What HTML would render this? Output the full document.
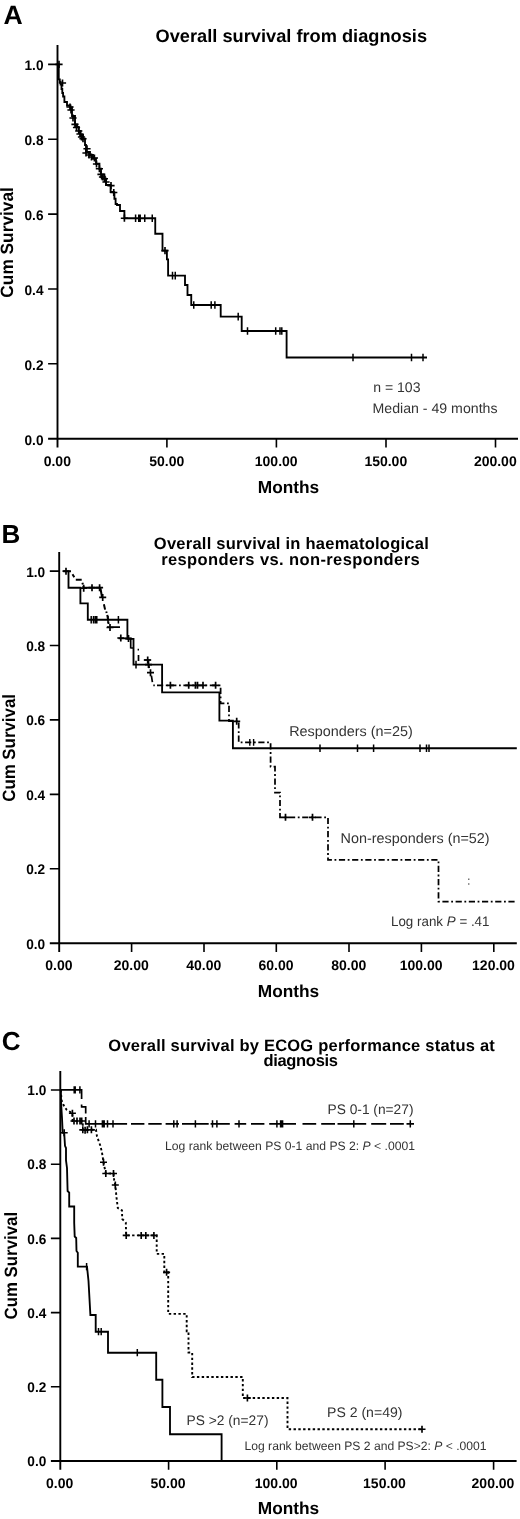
<!DOCTYPE html>
<html><head><meta charset="utf-8"><title>Overall survival</title>
<style>html,body{margin:0;padding:0;background:#fff}svg{display:block;will-change:transform}text{-webkit-font-smoothing:antialiased;text-rendering:geometricPrecision}</style></head><body>
<svg width="520" height="1519" viewBox="0 0 520 1519" font-family="Liberation Sans, sans-serif">
<rect width="520" height="1519" fill="#fff"/>
<text x="3.6" y="24" font-size="26.6" font-weight="bold" text-anchor="start" fill="#000">A</text>
<text x="291.3" y="41.6" font-size="18" font-weight="bold" text-anchor="middle" fill="#000" textLength="271.5" lengthAdjust="spacingAndGlyphs">Overall survival from diagnosis</text>
<path d="M57.5,45V447.5M48.1,438.7H518" stroke="#000" stroke-width="1.9" fill="none"/>
<path d="M48.1,64.4H57.5M48.1,139.3H57.5M48.1,214.1H57.5M48.1,289H57.5M48.1,363.8H57.5M166.9,438.7V447.5M276.4,438.7V447.5M386,438.7V447.5M495.5,438.7V447.5" stroke="#000" stroke-width="1.6" fill="none"/>
<text x="43.5" y="70.2" font-size="14" font-weight="bold" text-anchor="end" fill="#000" textLength="19" lengthAdjust="spacingAndGlyphs">1.0</text>
<text x="43.5" y="145.10000000000002" font-size="14" font-weight="bold" text-anchor="end" fill="#000" textLength="19" lengthAdjust="spacingAndGlyphs">0.8</text>
<text x="43.5" y="219.9" font-size="14" font-weight="bold" text-anchor="end" fill="#000" textLength="19" lengthAdjust="spacingAndGlyphs">0.6</text>
<text x="43.5" y="294.8" font-size="14" font-weight="bold" text-anchor="end" fill="#000" textLength="19" lengthAdjust="spacingAndGlyphs">0.4</text>
<text x="43.5" y="369.6" font-size="14" font-weight="bold" text-anchor="end" fill="#000" textLength="19" lengthAdjust="spacingAndGlyphs">0.2</text>
<text x="43.5" y="444.5" font-size="14" font-weight="bold" text-anchor="end" fill="#000" textLength="19" lengthAdjust="spacingAndGlyphs">0.0</text>
<text x="57.3" y="466.2" font-size="14" font-weight="bold" text-anchor="middle" fill="#000">0.00</text>
<text x="166.70000000000002" y="466.2" font-size="14" font-weight="bold" text-anchor="middle" fill="#000">50.00</text>
<text x="276.2" y="466.2" font-size="14" font-weight="bold" text-anchor="middle" fill="#000">100.00</text>
<text x="385.8" y="466.2" font-size="14" font-weight="bold" text-anchor="middle" fill="#000">150.00</text>
<text x="495.3" y="466.2" font-size="14" font-weight="bold" text-anchor="middle" fill="#000">200.00</text>
<text x="288.5" y="493.2" font-size="17.3" font-weight="bold" text-anchor="middle" fill="#000" textLength="61.5" lengthAdjust="spacingAndGlyphs">Months</text>
<text transform="translate(13.2,242.4) rotate(-90)" font-size="17.8" font-weight="bold" text-anchor="middle" textLength="110.5" lengthAdjust="spacingAndGlyphs">Cum Survival</text>
<polyline points="57.7,64.4 58.75,64.4 58.75,79.4 59.8,79.4 59.8,82 60.6,82 60.6,84.5 61.5,84.5 61.5,89 62.3,89 62.3,93 63.1,93 63.1,96.5 64.4,96.5 64.4,102 67,102 67,105.5 70.5,105.5 70.5,107.5 72,107.5 72,116 75,116 75,124.4 77,124.4 77,127 78.75,127 78.75,131 80.6,131 80.6,135 83,135 83,138.75 85,138.75 85,145 86,145 86,152 90,152 90,155 93,155 93,158.75 96,158.75 96,163.75 99.4,163.75 99.4,168.75 101,168.75 101,174.4 104.4,174.4 104.4,178.75 106,178.75 106,185 110.5,185 110.5,185.6 110.6,185.6 110.6,192 113.75,192 113.75,192.5 114.4,192.5 114.4,198.75 115.6,198.75 115.6,204 117,204 117,205 120,205 120,211 124.4,211 124.4,218.2 154.75,218.2 155.25,218.2 155.25,233.75 160.6,233.75 162.5,233.75 162.5,243 162.5,250.6 166.4,250.6 166.9,250.6 166.9,259.4 168.1,259.4 168.1,275.6 185,275.6 185,285 187.5,285 187.5,295 190.6,295 191.25,295 191.25,305 220.7,305 220.7,316.6 241.6,316.6 241.7,316.6 241.7,331 286.6,331 286.6,357.5 427,357.5" fill="none" stroke="#000" stroke-width="1.85" stroke-linejoin="miter" stroke-linecap="butt"/>
<path d="M59,60.800000000000004V68.0M55.4,64.4H62.6M62.5,79.4V86.6M58.9,83H66.1M70,103.4V110.6M66.4,107H73.6M71,106.4V113.6M67.4,110H74.6M73,114.4V121.6M69.4,118H76.6M75,120.80000000000001V128.0M71.4,124.4H78.6M76.5,123.9V131.1M72.9,127.5H80.1M78.75,127.4V134.6M75.15,131H82.35M80,130.4V137.6M76.4,134H83.6M81.5,133.4V140.6M77.9,137H85.1M83,135.15V142.35M79.4,138.75H86.6M87,145.15V152.35M83.4,148.75H90.6M86,149.4V156.6M82.4,153H89.6M89,151.4V158.6M85.4,155H92.6M91.5,153.4V160.6M87.9,157H95.1M94.4,154.4V161.6M90.80000000000001,158H98.0M96.5,160.4V167.6M92.9,164H100.1M99.4,165.15V172.35M95.80000000000001,168.75H103.0M101,170.8V178.0M97.4,174.4H104.6M102.5,173.4V180.6M98.9,177H106.1M104.4,175.15V182.35M100.80000000000001,178.75H108.0M106,178.4V185.6M102.4,182H109.6M111,182.0V189.2M107.4,185.6H114.6M113.75,188.9V196.1M110.15,192.5H117.35M124.4,214.6V221.79999999999998M120.80000000000001,218.2H128.0M165,247.0V254.2M161.4,250.6H168.6" stroke="#000" stroke-width="1.65" fill="none"/>
<path d="M135.6,214.39999999999998V222.0M138.75,214.39999999999998V222.0M140.2,214.39999999999998V222.0M144.75,214.39999999999998V222.0M152.25,214.39999999999998V222.0M172.5,271.8V279.40000000000003M175.25,271.8V279.40000000000003M193.75,301.2V308.8M211.2,301.2V308.8M214.9,301.2V308.8M238.2,312.8V320.40000000000003M247.5,327.2V334.8M275.7,327.2V334.8M280,327.2V334.8M281.8,327.2V334.8M353,353.7V361.3M411.5,353.7V361.3M423,353.7V361.3" stroke="#000" stroke-width="1.5" fill="none"/>
<text x="373.2" y="391.7" font-size="14" text-anchor="start" fill="#333" textLength="47.3" lengthAdjust="spacingAndGlyphs">n = 103</text>
<text x="372.5" y="412.7" font-size="14" text-anchor="start" fill="#333" textLength="125" lengthAdjust="spacingAndGlyphs">Median - 49 months</text>
<text x="1.6" y="543.3" font-size="26" font-weight="bold" text-anchor="start" fill="#000">B</text>
<text x="291.3" y="548.7" font-size="16.5" font-weight="bold" text-anchor="middle" fill="#000" textLength="275" lengthAdjust="spacing">Overall survival in haematological</text>
<text x="290.4" y="565.4" font-size="16.5" font-weight="bold" text-anchor="middle" fill="#000" textLength="258.5" lengthAdjust="spacing">responders vs. non-responders</text>
<path d="M59.2,552.1V952.0999999999999M49.800000000000004,943.3H516.8" stroke="#000" stroke-width="1.9" fill="none"/>
<path d="M49.800000000000004,571.1H59.2M49.800000000000004,645.5H59.2M49.800000000000004,719.9H59.2M49.800000000000004,794.4H59.2M49.800000000000004,868.8H59.2M131.6,943.3V952.0999999999999M204,943.3V952.0999999999999M276.3,943.3V952.0999999999999M349,943.3V952.0999999999999M421.4,943.3V952.0999999999999M493.8,943.3V952.0999999999999" stroke="#000" stroke-width="1.6" fill="none"/>
<text x="45.2" y="576.6" font-size="14" font-weight="bold" text-anchor="end" fill="#000" textLength="19" lengthAdjust="spacingAndGlyphs">1.0</text>
<text x="45.2" y="651.0" font-size="14" font-weight="bold" text-anchor="end" fill="#000" textLength="19" lengthAdjust="spacingAndGlyphs">0.8</text>
<text x="45.2" y="725.4" font-size="14" font-weight="bold" text-anchor="end" fill="#000" textLength="19" lengthAdjust="spacingAndGlyphs">0.6</text>
<text x="45.2" y="799.9" font-size="14" font-weight="bold" text-anchor="end" fill="#000" textLength="19" lengthAdjust="spacingAndGlyphs">0.4</text>
<text x="45.2" y="874.3" font-size="14" font-weight="bold" text-anchor="end" fill="#000" textLength="19" lengthAdjust="spacingAndGlyphs">0.2</text>
<text x="45.2" y="948.8" font-size="14" font-weight="bold" text-anchor="end" fill="#000" textLength="19" lengthAdjust="spacingAndGlyphs">0.0</text>
<text x="58.900000000000006" y="970.3" font-size="14" font-weight="bold" text-anchor="middle" fill="#000">0.00</text>
<text x="131.29999999999998" y="970.3" font-size="14" font-weight="bold" text-anchor="middle" fill="#000">20.00</text>
<text x="203.7" y="970.3" font-size="14" font-weight="bold" text-anchor="middle" fill="#000">40.00</text>
<text x="276.0" y="970.3" font-size="14" font-weight="bold" text-anchor="middle" fill="#000">60.00</text>
<text x="348.7" y="970.3" font-size="14" font-weight="bold" text-anchor="middle" fill="#000">80.00</text>
<text x="421.09999999999997" y="970.3" font-size="14" font-weight="bold" text-anchor="middle" fill="#000">100.00</text>
<text x="493.5" y="970.3" font-size="14" font-weight="bold" text-anchor="middle" fill="#000">120.00</text>
<text x="288.5" y="996.9" font-size="17.3" font-weight="bold" text-anchor="middle" fill="#000" textLength="61.5" lengthAdjust="spacingAndGlyphs">Months</text>
<text transform="translate(15.2,747.9) rotate(-90)" font-size="17.8" font-weight="bold" text-anchor="middle" textLength="107.8" lengthAdjust="spacingAndGlyphs">Cum Survival</text>
<polyline points="68.5,571.2 68.5,587.7 80.4,587.7 80.4,603.4 87.8,603.4 87.8,619.7 127.4,619.7 127.4,638.8 133.5,638.8 133.5,664.6 162.1,664.6 162.1,692.3 219.4,692.3 219.4,720.6 232.9,720.6 232.9,748.2 516.8,748.2" fill="none" stroke="#000" stroke-width="1.85" stroke-linejoin="miter" stroke-linecap="butt"/>
<path d="M91.2,615.9000000000001V623.5M93.5,615.9000000000001V623.5M95.3,615.9000000000001V623.5M96.8,615.9000000000001V623.5M108,615.9000000000001V623.5M118.4,615.9000000000001V623.5M136,660.8000000000001V668.4M320,744.4000000000001V752.0M357.5,744.4000000000001V752.0M373.6,744.4000000000001V752.0M420,744.4000000000001V752.0M426.5,744.4000000000001V752.0M429,744.4000000000001V752.0" stroke="#000" stroke-width="1.5" fill="none"/>
<path d="M63.3,571.2L71,571.2M72.5,574.3L74.3,577.2M75.8,579.7L81.7,579.7M82.4,582.8L82.9,584.6M83.3,586L83.6,588.4M83.5,587.7L100.6,587.7M100.4,588L102.1,597.5M103.9,604.3L105.1,609.6M106.2,611.5L106.7,613M107.3,614.8L108.1,620" stroke="#000" stroke-width="2.0" fill="none"/>
<path d="M108.4,621.5L108.7,624M107,627.2L120,627.2M118.5,638.4L131.5,638.4M130.7,639L130.7,648.4M130.7,648L133,648M137.6,649.6L139,649.6M138.5,655L138.5,661M143.8,660L150.8,660M148.7,665L149.2,668.2M151.4,675.6L152.4,682.2M153.3,685.4L154.8,685.4" stroke="#000" stroke-width="1.7" fill="none"/>
<polyline points="157,685.3 220.6,685.3 220.6,703.3 229,703.3 229,721 238.7,721 238.7,742.4 270.6,742.4 270.6,766.7 275,766.7 275,792.7 280,792.7 280,817.3 328,817.3 328,859.8 438.5,859.8 438.5,901.5 516.8,901.5" fill="none" stroke="#000" stroke-width="1.75" stroke-linejoin="miter" stroke-linecap="butt" stroke-dasharray="6.2,2.6,1.8,2.6"/>
<path d="M66,567.7V574.7M62.5,571.2H69.5M83.7,584.7V591.7M80.2,588.2H87.2M92,584.2V591.2M88.5,587.7H95.5M99.6,584.2V591.2M96.1,587.7H103.1M102.7,593.9V600.9M99.2,597.4H106.2M110,624.0V631.0M106.5,627.5H113.5M120.8,634.5V641.5M117.3,638H124.3M128.5,635.1V642.1M125.0,638.6H132.0M147.7,656.5V663.5M144.2,660H151.2M148.5,661.1V668.1M145.0,664.6H152.0M150.5,669.2V676.2M147.0,672.7H154.0M170.4,681.8V688.8M166.9,685.3H173.9M188.7,681.8V688.8M185.2,685.3H192.2M195.4,681.8V688.8M191.9,685.3H198.9M197.5,681.8V688.8M194.0,685.3H201.0M203,681.8V688.8M199.5,685.3H206.5M215.6,681.8V688.8M212.1,685.3H219.1M236.7,717.8V724.8M233.2,721.3H240.2M285.5,813.8V820.8M282.0,817.3H289.0M312.5,813.8V820.8M309.0,817.3H316.0" stroke="#000" stroke-width="1.7" fill="none"/>
<path d="M249.8,739.1V745.6999999999999M253.6,739.1V745.6999999999999" stroke="#000" stroke-width="1.4" fill="none"/>
<text x="289.2" y="736.4" font-size="14.2" text-anchor="start" fill="#333" textLength="123.5" lengthAdjust="spacingAndGlyphs">Responders (n=25)</text>
<text x="340.6" y="842.8" font-size="14.2" text-anchor="start" fill="#333" textLength="149" lengthAdjust="spacingAndGlyphs">Non-responders (n=52)</text>
<text x="391" y="925.8" font-size="13.8" fill="#333" textLength="98.5" lengthAdjust="spacingAndGlyphs">Log rank <tspan font-style="italic">P</tspan> = .41</text>
<path d="M468.8,878.6v1.4M468.8,883.3v1.4" stroke="#444" stroke-width="1.1"/>
<text x="1.7" y="1049.5" font-size="26" font-weight="bold" text-anchor="start" fill="#000">C</text>
<text x="301.6" y="1050.8" font-size="16.5" font-weight="bold" text-anchor="middle" fill="#000" textLength="386.5" lengthAdjust="spacing">Overall survival by ECOG performance status at</text>
<text x="300.7" y="1066.2" font-size="16.5" font-weight="bold" text-anchor="middle" fill="#000" textLength="74.5" lengthAdjust="spacing">diagnosis</text>
<path d="M60.3,1071V1469.8M50.9,1461H516.6" stroke="#000" stroke-width="1.9" fill="none"/>
<path d="M50.9,1090H60.3M50.9,1164.2H60.3M50.9,1238.4H60.3M50.9,1312.6H60.3M50.9,1386.8H60.3M168.6,1461V1469.8M276.8,1461V1469.8M385.1,1461V1469.8M493.6,1461V1469.8" stroke="#000" stroke-width="1.6" fill="none"/>
<text x="46.3" y="1095.2" font-size="14" font-weight="bold" text-anchor="end" fill="#000" textLength="19" lengthAdjust="spacingAndGlyphs">1.0</text>
<text x="46.3" y="1169.4" font-size="14" font-weight="bold" text-anchor="end" fill="#000" textLength="19" lengthAdjust="spacingAndGlyphs">0.8</text>
<text x="46.3" y="1243.6000000000001" font-size="14" font-weight="bold" text-anchor="end" fill="#000" textLength="19" lengthAdjust="spacingAndGlyphs">0.6</text>
<text x="46.3" y="1317.8" font-size="14" font-weight="bold" text-anchor="end" fill="#000" textLength="19" lengthAdjust="spacingAndGlyphs">0.4</text>
<text x="46.3" y="1392.0" font-size="14" font-weight="bold" text-anchor="end" fill="#000" textLength="19" lengthAdjust="spacingAndGlyphs">0.2</text>
<text x="46.3" y="1466.2" font-size="14" font-weight="bold" text-anchor="end" fill="#000" textLength="19" lengthAdjust="spacingAndGlyphs">0.0</text>
<text x="59.699999999999996" y="1487.9" font-size="14" font-weight="bold" text-anchor="middle" fill="#000">0.00</text>
<text x="168.0" y="1487.9" font-size="14" font-weight="bold" text-anchor="middle" fill="#000">50.00</text>
<text x="276.2" y="1487.9" font-size="14" font-weight="bold" text-anchor="middle" fill="#000">100.00</text>
<text x="384.5" y="1487.9" font-size="14" font-weight="bold" text-anchor="middle" fill="#000">150.00</text>
<text x="493.0" y="1487.9" font-size="14" font-weight="bold" text-anchor="middle" fill="#000">200.00</text>
<text x="288.5" y="1514" font-size="17.3" font-weight="bold" text-anchor="middle" fill="#000" textLength="61.5" lengthAdjust="spacingAndGlyphs">Months</text>
<text transform="translate(16.6,1265.7) rotate(-90)" font-size="17.8" font-weight="bold" text-anchor="middle" textLength="107.6" lengthAdjust="spacingAndGlyphs">Cum Survival</text>
<path d="M60.3,1089.8L82.4,1089.8M81.6,1089L81.6,1099M81.6,1104.5L81.6,1106.8M80.8,1106.8L86.5,1106.8M85.7,1106.8L85.7,1113.4M85.7,1117L85.7,1124.6499999999999M85.7,1123.8L127.1,1123.8M131,1123.8L144.4,1123.8M148.3,1123.8L161.7,1123.8M165.6,1123.8L179,1123.8M182,1123.8L208.7,1123.8M210.6,1123.8L229.8,1123.8M234.6,1123.8L246.2,1123.8M251,1123.8L264.4,1123.8M269.2,1123.8L296,1123.8M302.5,1123.8L316.2,1123.8M321.2,1123.8L335,1123.8M337.5,1123.8L366.2,1123.8M371.2,1123.8L386.2,1123.8M390,1123.8L403.8,1123.8M406.5,1123.8L414,1123.8" stroke="#000" stroke-width="1.7" fill="none"/>
<path d="M74.2,1086.2V1093.3999999999999M75.2,1086.2V1093.3999999999999M79.9,1086.2V1093.3999999999999" stroke="#000" stroke-width="1.5" fill="none"/>
<path d="M89.1,1120.2V1127.3999999999999M95.5,1120.2V1127.3999999999999M102.4,1120.2V1127.3999999999999M103.4,1120.2V1127.3999999999999M104.2,1120.2V1127.3999999999999M107.5,1120.2V1127.3999999999999M113,1120.2V1127.3999999999999M173.8,1120.2V1127.3999999999999M177.1,1120.2V1127.3999999999999M195.4,1120.2V1127.3999999999999M212.5,1120.2V1127.3999999999999M216.9,1120.2V1127.3999999999999M239,1120.2V1127.3999999999999M276.9,1120.2V1127.3999999999999M280.6,1120.2V1127.3999999999999M281.7,1120.2V1127.3999999999999M282.6,1120.2V1127.3999999999999M353.8,1120.2V1127.3999999999999M410.3,1120.2V1127.3999999999999" stroke="#000" stroke-width="1.5" fill="none"/>
<polyline points="60.8,1090 61.5,1100 63.5,1105 66.5,1109.6 72.4,1113.2 72.6,1121 82.6,1121 83,1129.8 96,1129.8 97,1136.5 100.4,1145.8 102,1152.7 103.5,1162.2 105,1169.6 105.8,1173.5 113.5,1173.5 114.2,1180.4 115.3,1185 116.5,1197.3 117.8,1208 122,1210.4 122.2,1218.8 125.8,1222.7 126.2,1235.4 156.7,1235.4 156.7,1253.9 164.3,1253.9 164.3,1272.3 168.2,1272.3 168.2,1313.9 186.7,1313.9 186.7,1331.2 188.5,1331.2 188.5,1352.5 192.2,1352.5 192.2,1377 242.8,1377 242.8,1398 287.5,1398 287.5,1429.2 423,1429.2" fill="none" stroke="#000" stroke-width="1.9" stroke-linejoin="miter" stroke-linecap="butt" stroke-dasharray="2.4,2.4"/>
<path d="M72.4,1109.7V1116.7M68.9,1113.2H75.9M74,1117.5V1124.5M70.5,1121H77.5M77,1117.5V1124.5M73.5,1121H80.5M80,1117.5V1124.5M76.5,1121H83.5M81.7,1117.5V1124.5M78.2,1121H85.2M82.8,1126.3V1133.3M79.3,1129.8H86.3M85.1,1126.7V1133.7M81.6,1130.2H88.6M87.4,1126.3V1133.3M83.9,1129.8H90.9M91.4,1126.3V1133.3M87.9,1129.8H94.9M103.5,1158.7V1165.7M100.0,1162.2H107.0M105.8,1170.0V1177.0M102.3,1173.5H109.3M113.5,1170.0V1177.0M110.0,1173.5H117.0M115.3,1181.5V1188.5M111.8,1185H118.8M126.2,1231.9V1238.9M122.7,1235.4H129.7M141.2,1231.9V1238.9M137.7,1235.4H144.7M145.8,1231.9V1238.9M142.3,1235.4H149.3M153.9,1231.9V1238.9M150.4,1235.4H157.4M166.6,1268.8V1275.8M163.1,1272.3H170.1M247.4,1394.5V1401.5M243.9,1398H250.9M422,1425.7V1432.7M418.5,1429.2H425.5" stroke="#000" stroke-width="1.65" fill="none"/>
<polyline points="60.8,1090 61.2,1105 62,1118 62.7,1132.7 64.2,1133 65,1145.8 66,1148 66,1160.4 67,1168 67.6,1191 69.2,1192.7 69.2,1206.5 74.2,1206.5 74.2,1222.7 74.7,1236.5 76.2,1238 76.5,1251 77.8,1252.7 77.8,1266.6 87,1266.6 88.5,1281 90.4,1315 95.7,1315 95.7,1331.7 108,1331.7 108,1352.7 156.2,1352.7 156.2,1379.7 162.4,1379.7 162.4,1407 170,1407 170,1434.2 221.6,1434.2 221.6,1461" fill="none" stroke="#000" stroke-width="1.85" stroke-linejoin="miter" stroke-linecap="butt"/>
<path d="M64.2,1129.2V1136.2M60.7,1132.7H67.7" stroke="#000" stroke-width="1.65" fill="none"/>
<path d="M86.6,1263.0V1270.1999999999998M98.5,1328.1000000000001V1335.3M101.2,1328.1000000000001V1335.3M137.3,1349.1000000000001V1356.3" stroke="#000" stroke-width="1.5" fill="none"/>
<text x="327.5" y="1114" font-size="13.8" text-anchor="start" fill="#333" textLength="86" lengthAdjust="spacingAndGlyphs">PS 0-1 (n=27)</text>
<text x="165" y="1150.2" font-size="12.2" text-anchor="start" fill="#333" textLength="250" lengthAdjust="spacingAndGlyphs">Log rank between PS 0-1 and PS 2: <tspan font-style="italic">P</tspan> &lt; .0001</text>
<text x="186.5" y="1425" font-size="13.8" text-anchor="start" fill="#333" textLength="82" lengthAdjust="spacingAndGlyphs">PS &gt;2 (n=27)</text>
<text x="327" y="1417" font-size="13.9" text-anchor="start" fill="#333" textLength="75.5" lengthAdjust="spacingAndGlyphs">PS 2 (n=49)</text>
<text x="244.5" y="1449.6" font-size="12.2" text-anchor="start" fill="#333" textLength="242" lengthAdjust="spacingAndGlyphs">Log rank between PS 2 and PS&gt;2: <tspan font-style="italic">P</tspan> &lt; .0001</text>
</svg></body></html>
